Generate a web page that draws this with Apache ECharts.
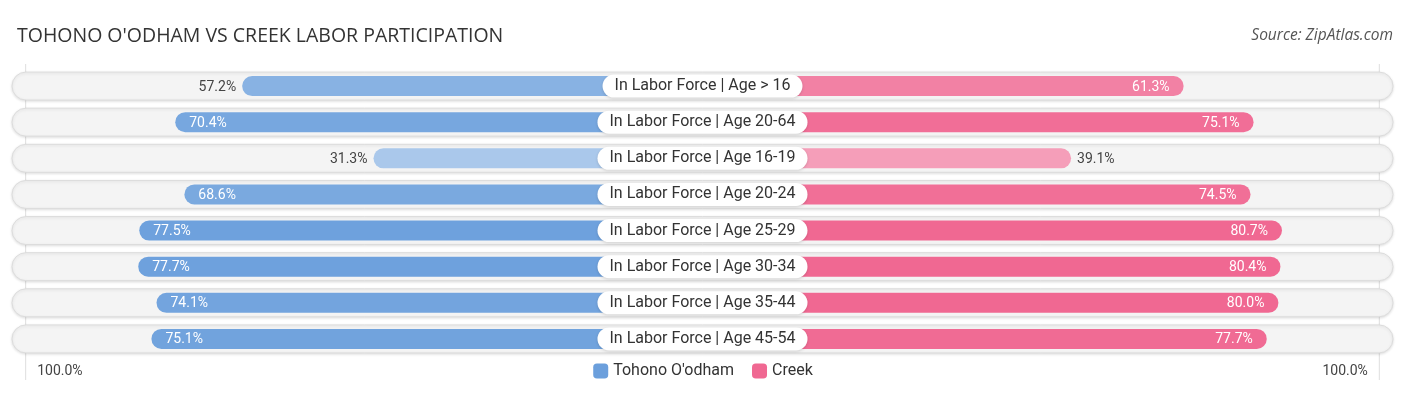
<!DOCTYPE html>
<html>
<head>
<meta charset="utf-8">
<script src="https://cdn.jsdelivr.net/npm/echarts@6/dist/echarts.min.js"></script>
<style>
html,body{margin:0;padding:0;background:#fff;}
#chart{width:1406px;height:395px;}
</style>
</head>
<body>
<div id="chart"></div>
<script>
const categories = [
  "In Labor Force | Age > 16",
  "In Labor Force | Age 20-64",
  "In Labor Force | Age 16-19",
  "In Labor Force | Age 20-24",
  "In Labor Force | Age 25-29",
  "In Labor Force | Age 30-34",
  "In Labor Force | Age 35-44",
  "In Labor Force | Age 45-54"
];
const tohono = [57.2, 70.4, 31.3, 68.6, 77.5, 77.7, 74.1, 75.1];
const creek = [61.3, 75.1, 39.1, 74.5, 80.7, 80.4, 80.0, 77.7];
const seriesNames = ["Tohono O'odham", "Creek"];
const tickLabels = ["100.0%", "100.0%"];

const OFFSET = 33.6;   // half-width of centre label zone, in % units
const R = 136.2;       // half-width of the track, in % units
const BLUE = [107, 159, 220];
const PINK = [240, 104, 146];

function shade(base, v) {
  let t = Math.max(0, Math.min(0.6, (80 - v) / 115));
  const c = base.map(x => Math.round(x + (255 - x) * t));
  return 'rgb(' + c.join(',') + ')';
}
function rgb(c) { return 'rgb(' + c.join(',') + ')'; }

const FONT = 'Roboto, "Noto Sans", sans-serif';

function barData(vals, base, side) {
  return vals.map(v => {
    const inside = v >= 60;
    return {
      value: side * (OFFSET + v),
      itemStyle: { color: shade(base, v) },
      label: inside
        ? { position: side < 0 ? 'insideLeft' : 'insideRight', distance: 14, color: '#fff' }
        : { position: side < 0 ? 'left' : 'right', distance: 6, color: '#444' }
    };
  });
}

const chart = echarts.init(document.getElementById('chart'));
chart.setOption({
  animation: false,
  title: [
    { text: "TOHONO O'ODHAM VS CREEK LABOR PARTICIPATION", left: 12, top: 21,
      textStyle: { fontSize: 19.5, fontWeight: 'normal', color: '#333', fontFamily: '"Open Sans", sans-serif' } },
    { text: 'Source: ZipAtlas.com', right: 8, top: 23,
      textStyle: { fontSize: 15.5, fontWeight: 'normal', fontStyle: 'italic', color: '#555', fontFamily: '"Open Sans", sans-serif' } }
  ],
  legend: {
    data: seriesNames, top: 358, left: 'center', icon: 'roundRect',
    itemWidth: 15, itemHeight: 15, itemGap: 18,
    textStyle: { fontSize: 16, color: '#333', fontFamily: FONT }
  },
  grid: { left: 12, right: 13, top: 68, height: 289 },
  xAxis: { type: 'value', min: -R, max: R, show: false },
  yAxis: { type: 'category', data: categories, inverse: true, show: false },
  series: [
    {
      type: 'custom', clip: false, z: 1, silent: true,
      data: categories.map((c, i) => [i]),
      encode: { y: 0 },
      renderItem: function (params, api) {
        const h = 28;
        const a = api.coord([-R, api.value(0)]);
        const b = api.coord([R, api.value(0)]);
        return {
          type: 'rect',
          shape: { x: a[0], y: a[1] - h / 2, width: b[0] - a[0], height: h, r: h / 2 },
          style: { fill: '#f4f4f4', stroke: '#dcdcdc', lineWidth: 1,
                   shadowBlur: 3, shadowColor: 'rgba(0,0,0,0.12)', shadowOffsetY: 1 }
        };
      }
    },
    {
      name: seriesNames[0], type: 'bar', z: 2, barWidth: 20, barGap: '-100%',
      itemStyle: { color: rgb(BLUE), borderRadius: 10 },
      label: { show: true, fontSize: 14, fontFamily: FONT, offset: [0, 1],
               formatter: p => tohono[p.dataIndex].toFixed(1) + '%' },
      data: barData(tohono, BLUE, -1)
    },
    {
      name: seriesNames[1], type: 'bar', z: 2, barWidth: 20, barGap: '-100%',
      itemStyle: { color: rgb(PINK), borderRadius: 10 },
      label: { show: true, fontSize: 14, fontFamily: FONT, offset: [0, 1],
               formatter: p => creek[p.dataIndex].toFixed(1) + '%' },
      data: barData(creek, PINK, 1)
    },
    {
      type: 'scatter', z: 5, symbolSize: 0, silent: true,
      itemStyle: { opacity: 1 },
      data: categories.map(c => [0, c]),
      label: {
        show: true, position: 'inside', formatter: p => p.value[1],
        fontSize: 16, color: '#333', fontFamily: FONT,
        backgroundColor: '#fff', borderRadius: 12, padding: [4, 12, 3, 12],
        shadowBlur: 3, shadowColor: 'rgba(0,0,0,0.15)', shadowOffsetY: 1
      }
    }
  ]
});

const xl = chart.convertToPixel({ xAxisIndex: 0 }, -(OFFSET + 100));
const xr = chart.convertToPixel({ xAxisIndex: 0 }, OFFSET + 100);
chart.setOption({
  graphic: [
    { type: 'line', z: 0, silent: true, shape: { x1: xl + 0.5, y1: 64, x2: xl + 0.5, y2: 380 },
      style: { stroke: '#dedede', lineWidth: 1 } },
    { type: 'line', z: 0, silent: true, shape: { x1: xr - 0.5, y1: 64, x2: xr - 0.5, y2: 380 },
      style: { stroke: '#dedede', lineWidth: 1 } },
    { type: 'text', left: xl + 12, top: 364,
      style: { text: tickLabels[0], fontSize: 14, fill: '#444', fontFamily: FONT } },
    { type: 'text', right: 1406 - xr + 12, top: 364,
      style: { text: tickLabels[1], fontSize: 14, fill: '#444', fontFamily: FONT } }
  ]
});
</script>
</body>
</html>
